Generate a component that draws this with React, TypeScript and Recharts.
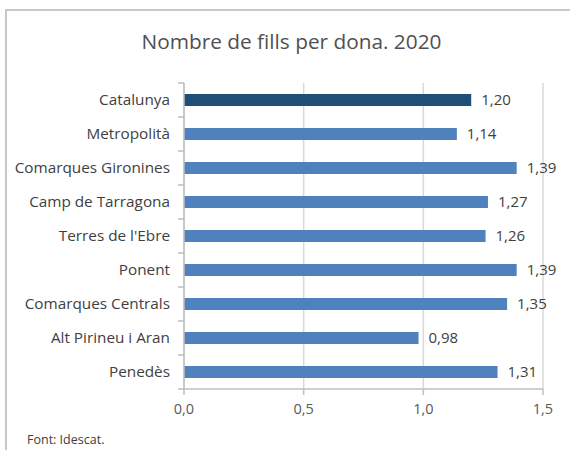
import React from 'react';
import { BarChart, Bar, XAxis, YAxis, CartesianGrid, LabelList, Cell } from 'recharts';

const regions = [
    'Catalunya',
    'Metropolità',
    'Comarques Gironines',
    'Camp de Tarragona',
    "Terres de l'Ebre",
    'Ponent',
    'Comarques Centrals',
    'Alt Pirineu i Aran',
    'Penedès'
];
const fills = [1.20, 1.14, 1.39, 1.27, 1.26, 1.39, 1.35, 0.98, 1.31];
const xTicks = [0, 0.5, 1, 1.5];

const data = regions.map((name, i) => ({ name, value: fills[i] }));

const fmt = (v: number, d: number) => v.toFixed(d).replace('.', ',');
const font = '"Open Sans", Lato, sans-serif';

const PLOT_TOP = 83;
const PLOT_H = 306;
const STEP = PLOT_H / regions.length;
const AXIS_X = 184;

// category label + Excel-style tick mark on the boundary above each band
const CategoryTick = (props: any) => {
    const { x, y, payload, index } = props;
    return (
        <g>
            <line x1={AXIS_X - 6} x2={AXIS_X} y1={y - STEP / 2} y2={y - STEP / 2} stroke="#bfbfbf" strokeWidth={1.5} />
            {index === regions.length - 1 && (
                <line x1={AXIS_X - 6} x2={AXIS_X} y1={y + STEP / 2} y2={y + STEP / 2} stroke="#bfbfbf" strokeWidth={1.5} />
            )}
            <text x={x} y={y} dy={5} textAnchor="end" fill="#404040" fontSize={15.3} fontFamily={font}>
                {payload.value}
            </text>
        </g>
    );
};

export default function App() {
    return (
        <div style={{ position: 'absolute', left: 0, top: 0, width: 570, height: 450, background: '#fff', fontFamily: font }}>
            {/* frame */}
            <div style={{ position: 'absolute', left: 5, top: 9, width: 565, height: 441, borderLeft: '2px solid #c8c8c8', borderTop: '2px solid #c8c8c8', boxSizing: 'border-box' }} />
            <div style={{ position: 'absolute', left: 0, top: 27, width: 583, textAlign: 'center', fontSize: 20.8, color: '#505050' }}>
                Nombre de fills per dona. 2020
            </div>
            <div style={{ position: 'absolute', left: 0, top: 0 }}>
                <BarChart
                    width={570}
                    height={450}
                    data={data}
                    layout="vertical"
                    margin={{ top: PLOT_TOP, right: 27, bottom: 21, left: 0 }}
                    barCategoryGap={11}
                >
                    <CartesianGrid horizontal={false} stroke="#d9d9d9" strokeWidth={1.5} />
                    <XAxis
                        type="number"
                        domain={[0, 1.5]}
                        ticks={xTicks}
                        tickFormatter={(v) => fmt(v, 1)}
                        stroke="#bfbfbf"
                        strokeWidth={1.5}
                        tick={{ fill: '#595959', fontSize: 14.5, fontFamily: font }}
                        tickSize={6}
                        tickMargin={9}
                        height={40}
                    />
                    <YAxis
                        type="category"
                        dataKey="name"
                        width={AXIS_X}
                        stroke="#bfbfbf"
                        strokeWidth={1.5}
                        tickLine={false}
                        tickMargin={8}
                        tick={<CategoryTick />}
                        interval={0}
                    />
                    <Bar dataKey="value" barSize={12} isAnimationActive={false}>
                        {data.map((d, i) => (
                            <Cell key={d.name} fill={i === 0 ? '#1f4e79' : '#4f81bd'} />
                        ))}
                        <LabelList
                            dataKey="value"
                            position="right"
                            offset={10}
                            formatter={(v: number) => fmt(v, 2)}
                            style={{ fill: '#404040', fontSize: 15, fontFamily: font }}
                        />
                    </Bar>
                </BarChart>
            </div>
            <div style={{ position: 'absolute', left: 27, top: 431, fontSize: 12.5, color: '#404040' }}>
                Font: Idescat.
            </div>
        </div>
    );
}
